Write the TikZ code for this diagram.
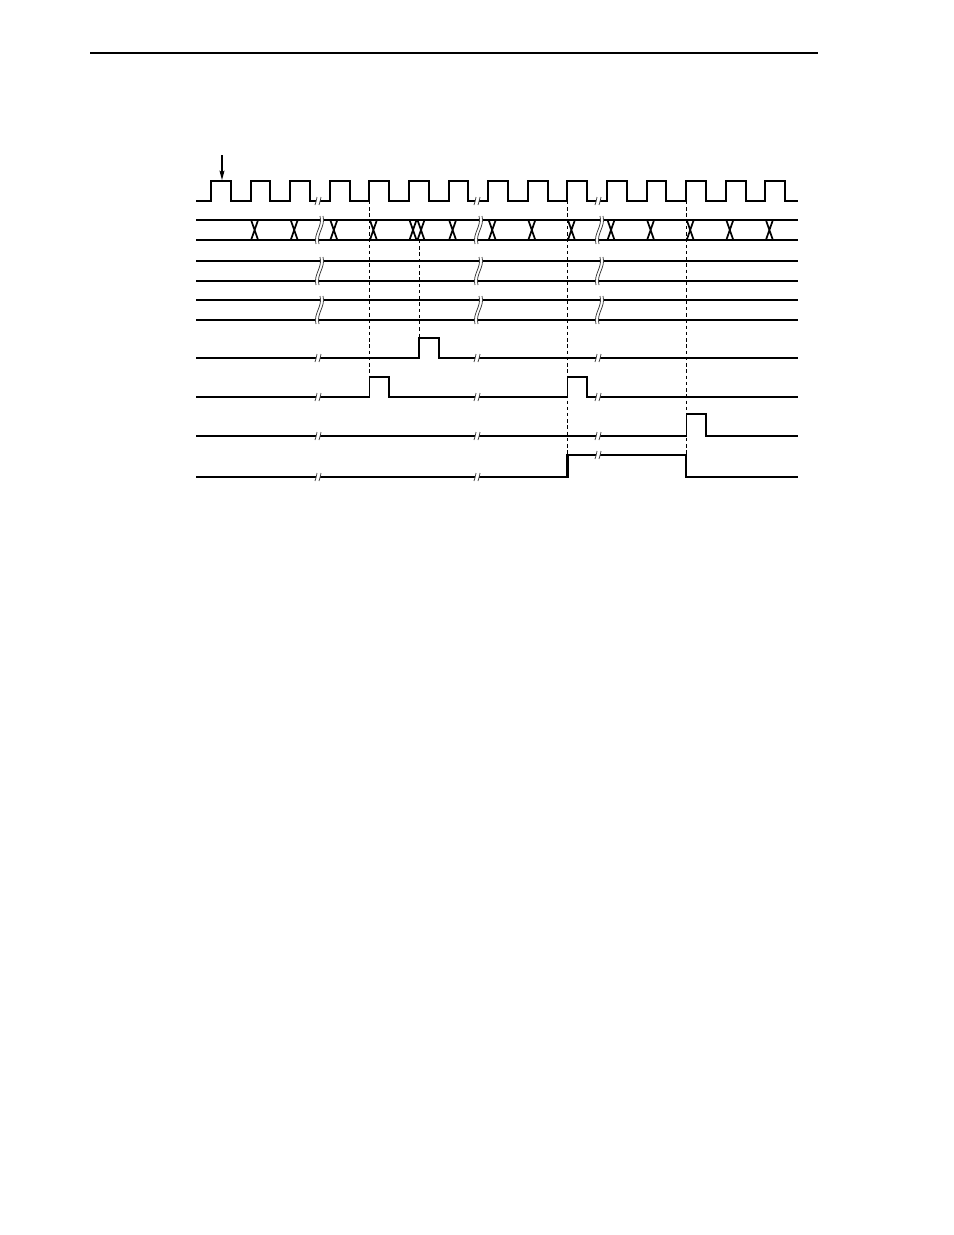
\documentclass[tikz,border=0pt]{standalone}
\usepackage{tikz}
\usetikzlibrary{arrows.meta,calc}

\begin{document}
\begin{tikzpicture}[x=0.6415pt,y=-0.6415pt,
clk/.style={line width=1.2pt},
bus/.style={line width=1.1pt},
sig/.style={line width=0.7pt},
thk/.style={line width=1.2pt},
thkk/.style={line width=1.6pt},
guide/.style={line width=0.6pt,dash pattern=on 2.2pt off 1.8pt},
brk/.style={line width=0.5pt,black!75}]

        \useasboundingbox (0,0) rectangle (954,1235);
        \draw[line width=0.7pt] (90,53) -- (818,53);

        % clock
        \draw[clk] (196,201) \foreach \k in {0,...,14} { -- ({211+39.6*\k},201) -- ++(0,-20) -- ++(19.8,0) -- ++(0,20) } -- (798,201);
        \coordinate (trig) at (222,180);
        \draw[line width=0.7pt,-{Stealth[length=6pt,width=3.2pt,inset=1pt]}] (222,155) -- (trig);

        % data bus
        \draw[bus] (196,220) -- (798,220) (196,240) -- (798,240);
        \foreach \k [evaluate=\k as \c using 215+39.6*\k] in {1,...,14}
            \draw[bus] (\c-3.5,220) -- (\c+3.5,240) (\c-3.5,240) -- (\c+3.5,220);
        \draw[bus] (417.5,220) -- (424.5,240) (417.5,240) -- (424.5,220);

        % level pairs
        \draw[sig] (196,261) -- (798,261) (196,281) -- (798,281);
        \draw[sig] (196,300) -- (798,300) (196,320) -- (798,320);

        % single lines
        \draw[thk] (196,358) -- (419,358) -- ++(0,-20) -- ++(19.8,0) -- ++(0,20) -- (798,358);
        \draw[bus] (196,397) -- (369.4,397) -- ++(0,-20) -- ++(19.8,0) -- ++(0,20)
            -- (567.4,397) -- ++(0,-20) -- ++(19.8,0) -- ++(0,20) -- (798,397);
        \draw[sig] (196,436) -- (686.2,436) -- ++(0,-22) -- ++(19.8,0) -- ++(0,22) -- (798,436);
        \draw[thkk] (196,477) -- (567.4,477) -- (567.4,455) -- (686.2,455) -- (686.2,477) -- (798,477);

        % guides
        \draw[guide] (369.4,201) -- (369.4,377);
        \draw[guide] (419,240) -- (419,338);
        \draw[guide] (567.4,201) -- (567.4,455);
        \draw[guide] (686.2,201) -- (686.2,455);

        % breaks
        \foreach \bx in {318,477,598} {
            \foreach \ty in {220,261,300} {
                \fill[white] (\bx+2,\ty-4) .. controls (\bx+5,\ty+6) and (\bx-5,\ty+14) .. (\bx-2,\ty+24)
                    -- (\bx+1,\ty+24) .. controls (\bx-2,\ty+14) and (\bx+8,\ty+6) .. (\bx+5,\ty-4) -- cycle;
                \draw[brk] (\bx+2,\ty-4) .. controls (\bx+5,\ty+6) and (\bx-5,\ty+14) .. (\bx-2,\ty+24)
                    (\bx+5,\ty-4) .. controls (\bx+8,\ty+6) and (\bx-2,\ty+14) .. (\bx+1,\ty+24);
            }
        }
        \foreach \bx/\ey in {318/477,477/477,598/455} {
            \foreach \sy in {201,358,397,436,\ey} {
                \fill[white] (\bx-2,\sy-2) rectangle (\bx+2,\sy+2);
                \draw[brk] (\bx-3,\sy+4) .. controls (\bx-0.5,\sy+1) and (\bx-3,\sy-1) .. (\bx-1,\sy-4)
                    (\bx+1,\sy+4) .. controls (\bx+3.5,\sy+1) and (\bx+1,\sy-1) .. (\bx+3,\sy-4);
            }
        }
    \end{tikzpicture}
\end{document}
